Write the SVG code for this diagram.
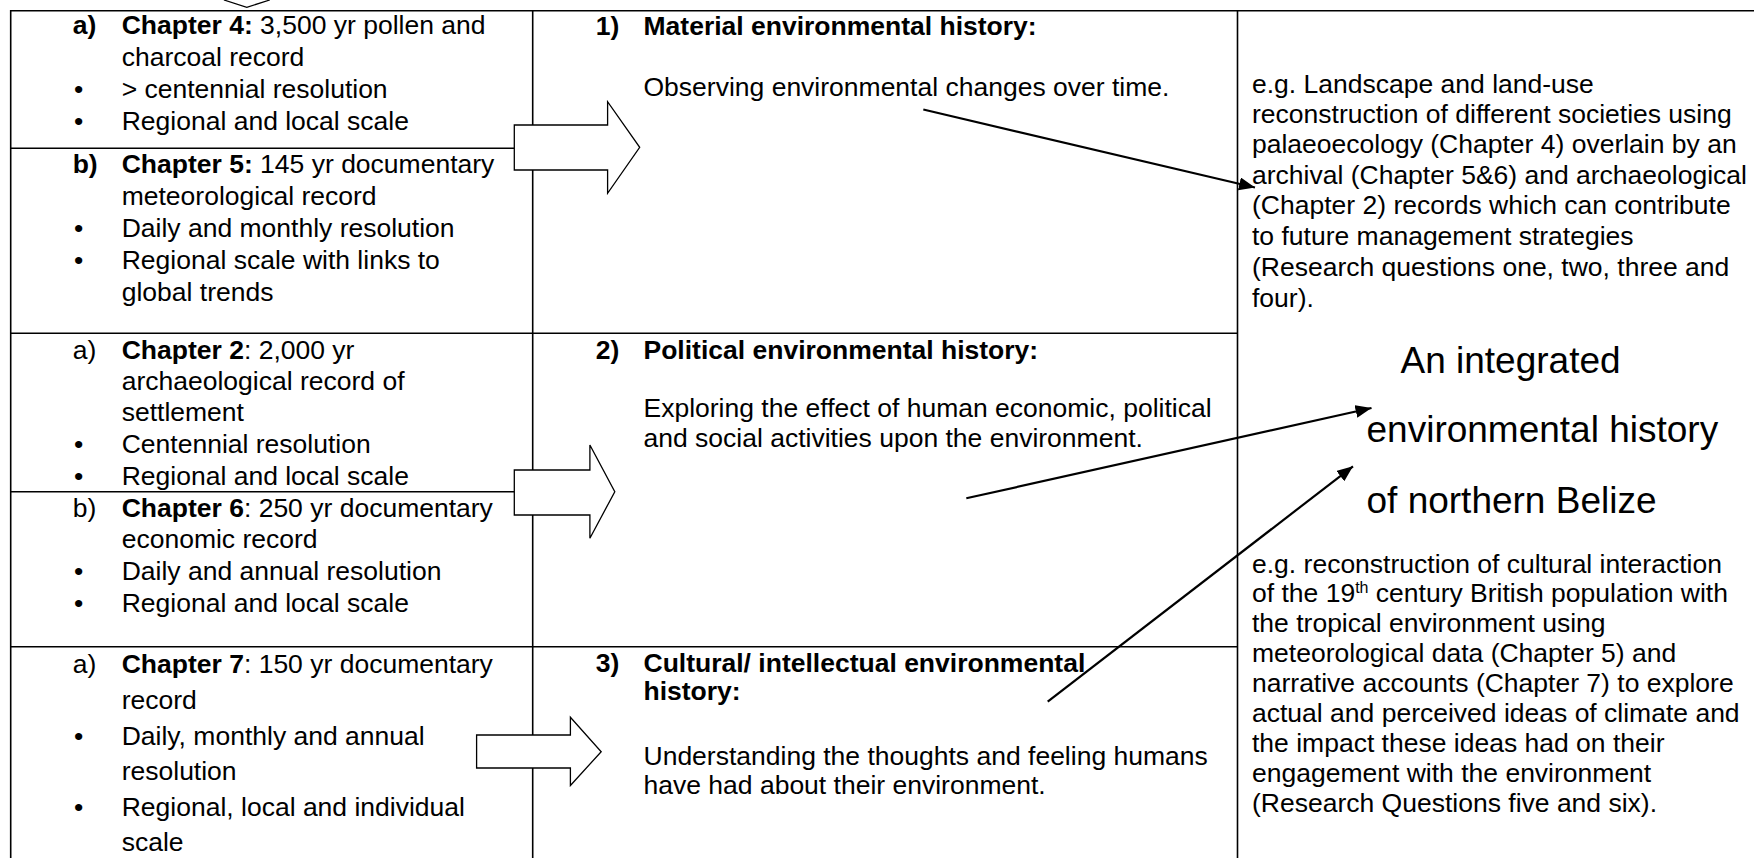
<svg xmlns="http://www.w3.org/2000/svg" width="1754" height="858" viewBox="0 0 1754 858">
<style>
.t{font-family:"Liberation Sans",Arial,Helvetica,sans-serif;font-size:26.5px;fill:#000}
.b{font-weight:bold}
.big{font-size:37px}
.grid{stroke:#000;stroke-width:1.6;fill:none}
.blk{fill:#fff;stroke:#000;stroke-width:1.3;stroke-linejoin:miter}
.conn{stroke:#000;stroke-width:2.2;fill:none;marker-end:url(#ah)}
</style>
<defs>
<marker id="ah" markerUnits="userSpaceOnUse" markerWidth="18" markerHeight="14" refX="16" refY="6.5" orient="auto">
<path d="M0,0 L16,6.5 L0,13 z" fill="#000"/>
</marker>
</defs>
<rect width="1754" height="858" fill="#fff"/>

<g id="grid">
<line class="grid" x1="10.5" y1="10.7" x2="1754" y2="10.7"/>
<line class="grid" x1="10.7" y1="10" x2="10.7" y2="858"/>
<line class="grid" x1="532.7" y1="10" x2="532.7" y2="858"/>
<line class="grid" x1="1237.5" y1="10" x2="1237.5" y2="858"/>
<line class="grid" x1="10" y1="148.3" x2="532.7" y2="148.3"/>
<line class="grid" x1="10" y1="333.3" x2="1237.5" y2="333.3"/>
<line class="grid" x1="10" y1="491.7" x2="532.7" y2="491.7"/>
<line class="grid" x1="10" y1="646.7" x2="1237.5" y2="646.7"/>
</g>

<g id="top-arrow">
<polyline class="blk" points="223.9,0 246.8,7.3 269.8,0"/>
</g>

<g id="src-ch4-ch5">
<text class="t" y="34"><tspan class="b" x="72.7">a)</tspan><tspan x="121.7" class="b">Chapter 4:</tspan> 3,500 yr pollen and</text>
<text class="t" x="121.7" y="66">charcoal record</text>
<text class="t" y="98"><tspan x="74">•</tspan><tspan x="121.7">&gt; centennial resolution</tspan></text>
<text class="t" y="130"><tspan x="74">•</tspan><tspan x="121.7">Regional and local scale</tspan></text>
<text class="t" y="173"><tspan class="b" x="72.7">b)</tspan><tspan x="121.7" class="b">Chapter 5:</tspan> 145 yr documentary</text>
<text class="t" x="121.7" y="205">meteorological record</text>
<text class="t" y="237"><tspan x="74">•</tspan><tspan x="121.7">Daily and monthly resolution</tspan></text>
<text class="t" y="269"><tspan x="74">•</tspan><tspan x="121.7">Regional scale with links to</tspan></text>
<text class="t" x="121.7" y="300.5">global trends</text>
</g>

<g id="src-ch2-ch6">
<text class="t" y="358.5"><tspan x="72.7">a)</tspan><tspan x="121.7" class="b">Chapter 2</tspan>: 2,000 yr</text>
<text class="t" x="121.7" y="389.5">archaeological record of</text>
<text class="t" x="121.7" y="420.5">settlement</text>
<text class="t" y="452.5"><tspan x="74">•</tspan><tspan x="121.7">Centennial resolution</tspan></text>
<text class="t" y="485"><tspan x="74">•</tspan><tspan x="121.7">Regional and local scale</tspan></text>
<text class="t" y="517"><tspan x="72.7">b)</tspan><tspan x="121.7" class="b">Chapter 6</tspan>: 250 yr documentary</text>
<text class="t" x="121.7" y="548">economic record</text>
<text class="t" y="580"><tspan x="74">•</tspan><tspan x="121.7">Daily and annual resolution</tspan></text>
<text class="t" y="612"><tspan x="74">•</tspan><tspan x="121.7">Regional and local scale</tspan></text>
</g>

<g id="src-ch7">
<text class="t" y="673"><tspan x="72.7">a)</tspan><tspan x="121.7" class="b">Chapter 7</tspan>: 150 yr documentary</text>
<text class="t" x="121.7" y="708.6">record</text>
<text class="t" y="745"><tspan x="74">•</tspan><tspan x="121.7">Daily, monthly and annual</tspan></text>
<text class="t" x="121.7" y="780">resolution</text>
<text class="t" y="816"><tspan x="74">•</tspan><tspan x="121.7">Regional, local and individual</tspan></text>
<text class="t" x="121.7" y="851">scale</text>
</g>

<g id="material">
<text class="t b" y="35"><tspan x="595.7">1)</tspan><tspan x="643.5">Material environmental history:</tspan></text>
<text class="t" x="643.5" y="95.5">Observing environmental changes over time.</text>
</g>

<g id="political">
<text class="t b" y="358.5"><tspan x="595.7">2)</tspan><tspan x="643.5">Political environmental history:</tspan></text>
<text class="t" x="643.5" y="416.5">Exploring the effect of human economic, political</text>
<text class="t" x="643.5" y="446.5">and social activities upon the environment.</text>
</g>

<g id="cultural">
<text class="t b" y="671.7"><tspan x="595.7">3)</tspan><tspan x="643.5">Cultural/ intellectual environmental</tspan></text>
<text class="t b" x="643.5" y="700">history:</text>
<text class="t" x="643.5" y="765">Understanding the thoughts and feeling humans</text>
<text class="t" x="643.5" y="793.5">have had about their environment.</text>
</g>

<g id="integrated">
<text class="t" x="1252" y="92.5">e.g. Landscape and land-use</text>
<text class="t" x="1252" y="122.5">reconstruction of different societies using</text>
<text class="t" x="1252" y="153">palaeoecology (Chapter 4) overlain by an</text>
<text class="t" x="1252" y="183.5">archival (Chapter 5&amp;6) and archaeological</text>
<text class="t" x="1252" y="214">(Chapter 2) records which can contribute</text>
<text class="t" x="1252" y="245">to future management strategies</text>
<text class="t" x="1252" y="276">(Research questions one, two, three and</text>
<text class="t" x="1252" y="307">four).</text>
<text class="t big" x="1400.5" y="373.3">An integrated</text>
<text class="t big" x="1366.5" y="442">environmental history</text>
<text class="t big" x="1366.5" y="512.7">of northern Belize</text>
<text class="t" x="1252" y="572.5">e.g. reconstruction of cultural interaction</text>
<text class="t" x="1252" y="602.4">of the 19<tspan dy="-9" font-size="16">th</tspan><tspan dy="9"> century British population with</tspan></text>
<text class="t" x="1252" y="632.3">the tropical environment using</text>
<text class="t" x="1252" y="662.2">meteorological data (Chapter 5) and</text>
<text class="t" x="1252" y="692.1">narrative accounts (Chapter 7) to explore</text>
<text class="t" x="1252" y="722">actual and perceived ideas of climate and</text>
<text class="t" x="1252" y="751.9">the impact these ideas had on their</text>
<text class="t" x="1252" y="781.8">engagement with the environment</text>
<text class="t" x="1252" y="811.7">(Research Questions five and six).</text>
</g>

<g id="block-arrows">
<polygon id="barrow1" class="blk" points="514.3,125 607.6,125 607.6,101.7 639.7,147.3 607.6,193.3 607.6,170 514.3,170"/>
<polygon id="barrow2" class="blk" points="514.3,470 589.9,470 589.9,445 614.8,491.7 589.9,538.3 589.9,515 514.3,515"/>
<polygon id="barrow3" class="blk" points="476.6,735 570.4,735 570.4,717.3 601.2,751.7 570.4,785.5 570.4,768 476.6,768"/>
</g>

<g id="connectors">
<line class="conn" x1="923.3" y1="109.5" x2="1255" y2="187.5"/>
<line class="conn" x1="966.3" y1="498.3" x2="1371.5" y2="408"/>
<line class="conn" x1="1047.7" y1="701.7" x2="1353" y2="466.3"/>
</g>
</svg>
